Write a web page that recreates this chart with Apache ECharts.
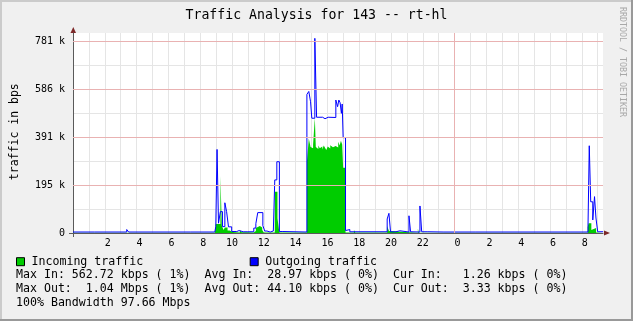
<!DOCTYPE html>
<html><head><meta charset="utf-8">
<script src="https://cdn.jsdelivr.net/npm/echarts@6/dist/echarts.min.js"></script>
<style>html,body{margin:0;padding:0;background:#f0f0f0}#c{width:633px;height:321px}</style>
</head><body><div id="c"></div>
<script>
const chartTitle = 'Traffic Analysis for 143 -- rt-hl';
const yAxisTitle = 'traffic in bps';
const watermark = 'RRDTOOL / TOBI OETIKER';
const seriesNames = ['Incoming traffic', 'Outgoing traffic'];
const yTickLabels = ['0', '195 k', '391 k', '586 k', '781 k'];
const xTickLabels = [' 2',' 4',' 6',' 8','10','12','14','16','18','20','22',' 0',' 2',' 4',' 6',' 8'];
const midnightHour = 24;
const statLines = [
  'Max In: 562.72 kbps ( 1%)  Avg In:  28.97 kbps ( 0%)  Cur In:   1.26 kbps ( 0%)',
  'Max Out:  1.04 Mbps ( 1%)  Avg Out: 44.10 kbps ( 0%)  Cur Out:  3.33 kbps ( 0%)',
  '100% Bandwidth 97.66 Mbps'
];
// hours since start of window, value in kbps (step holds until next point)
const inHours = [0,8.92,8.98,9.27,9.36,9.47,9.55,9.72,9.85,10.05,10.49,10.6,10.8,10.9,11.0,11.1,11.37,11.5,11.62,11.75,11.9,12.0,12.69,12.86,12.98,
  14.71,14.83,14.94,15.02,15.10,15.21,15.27,15.35,15.43,15.52,15.60,15.68,15.77,15.85,15.93,16.02,16.10,16.18,16.27,16.35,16.43,16.52,16.60,16.68,16.77,16.85,16.93,16.99,17.14,
  17.67,17.75,19.76,19.87,19.97,21.69,21.75,32.37,32.43,32.6,32.72,32.9,33.34];
const inKbps = [1,2,37,232,30,12,22,10,4,2,12,3,10,3,7,2,8,20,28,22,12,2,168,60,2,
  290,385,350,345,360,468,350,342,356,345,352,340,356,347,338,352,344,357,349,341,354,362,348,371,356,375,360,266,2,
  12,2,28,8,1,18,1,25,40,12,20,2,1];
const outHours = [0,1.37,1.49,3.38,3.5,7.41,7.53,8.92,8.98,9.06,9.15,9.27,9.40,9.55,9.66,9.78,9.98,10.3,10.45,10.7,10.8,11.0,11.1,
  11.37,11.5,11.62,11.94,12.06,12.2,12.4,12.6,12.69,12.82,12.98,13.2,
  14.71,14.83,14.94,15.02,15.21,15.32,15.70,15.85,16.05,16.15,16.53,16.64,16.72,16.80,16.88,16.93,16.99,17.14,17.22,17.41,
  19.76,19.87,19.97,20.31,20.56,21.13,21.23,21.28,21.35,21.82,21.93,22.32,22.40,23.33,23.41,25.34,25.45,31.32,31.43,
  32.39,32.47,32.56,32.69,32.80,32.89,33.0,33.34];
const outKbps = [4,9,4,14,4,10,4,10,26,340,40,87,26,123,87,25,6,10,5,12,5,8,5,
  20,38,83,30,8,4,8,4,216,290,6,4,
  564,576,534,467,792,471,465,471,463,470,541,514,541,530,487,525,388,10,14,5,
  57,80,5,9,4,70,5,9,4,110,5,12,4,9,4,9,4,10,4,
  26,355,127,53,148,61,5,5];

const FONT = '"DejaVu Sans Mono", monospace';
const xMax = 33.333, yMax = 813.8, yMajor = 195.3125, yMinor = 97.65625;
const gray = '#e5e5e5', red = '#e9b2b2', axisCol = '#5a5a5a', arrowCol = '#7d2828';

const chart = echarts.init(document.getElementById('c'), null, {renderer: 'canvas'});
const txt = (x, y, text, font, extra) => Object.assign({type:'text', x, y, silent:true,
  style: Object.assign({text, font, fill:'#000', textAlign:'left', align:'left', textVerticalAlign:'middle', verticalAlign:'middle'}, extra || {})});

const graphics = [
  {type:'rect', shape:{x:0,y:0,width:633,height:2}, style:{fill:'#cbcbcb'}, silent:true},
  {type:'rect', shape:{x:0,y:0,width:2,height:321}, style:{fill:'#cbcbcb'}, silent:true},
  {type:'rect', shape:{x:0,y:319,width:633,height:2}, style:{fill:'#999999'}, silent:true},
  {type:'rect', shape:{x:631,y:0,width:2,height:321}, style:{fill:'#999999'}, silent:true},
  txt(316.5, 16, chartTitle, '13.2px ' + FONT, {textAlign:'center', align:'center'}),
  Object.assign(txt(15.5, 131.7, yAxisTitle, '11.5px ' + FONT, {textAlign:'center', align:'center'}), {rotation: Math.PI/2}),
  Object.assign(txt(622.5, 62, watermark, '8.3px ' + FONT, {textAlign:'center', align:'center', fill:'#a8a8a8'}), {rotation: -Math.PI/2}),
  {type:'line', shape:{x1:69, y1:233.5, x2:73, y2:233.5}, style:{stroke:axisCol, lineWidth:1}, silent:true},
  {type:'line', shape:{x1:73.5, y1:233, x2:73.5, y2:237}, style:{stroke:axisCol, lineWidth:1}, silent:true},
  {type:'polygon', shape:{points:[[604,230.5],[604,235.5],[610,233]]}, style:{fill:arrowCol}, silent:true},
  {type:'polygon', shape:{points:[[70.5,33],[76,33],[73.3,27]]}, style:{fill:arrowCol}, silent:true}
];
statLines.forEach((s, i) => graphics.push(txt(16, 275 + i * 14.2, s, '11.6px ' + FONT)));

// major grid: red lines at labelled y values and at midnight
const majorLines = yTickLabels.slice(1).map((_, i) => ({yAxis: (i + 1) * yMajor})).concat([{xAxis: midnightHour}]);

chart.setOption({
  animation: false,
  backgroundColor: '#f0f0f0',
  grid: {left: 73, right: 30, top: 33, bottom: 88, show: true, backgroundColor: '#ffffff', borderWidth: 0},
  legend: {
    left: 16, top: 255.7, padding: 0, itemWidth: 8, itemHeight: 8, itemGap: 106.5, icon: 'rect',
    itemStyle: {borderColor: '#000', borderWidth: 1},
    textStyle: {fontFamily: FONT, fontSize: 11.6, color: '#000', lineHeight: 12, padding: [0,0,0,2]},
    data: seriesNames
  },
  xAxis: [
    {type:'value', min:0, max:xMax, interval:1,
     axisLine:{show:true, onZero:false, lineStyle:{color:axisCol, width:1}},
     axisTick:{show:false},
     axisLabel:{show:true, margin:5, fontFamily:FONT, fontSize:10, color:'#000', showMaxLabel:false, showMinLabel:false,
       formatter: v => { const h = Math.round(v); if (Math.abs(v-h) > 1e-6 || h % 2 || h < 2 || h > 32) return ''; return xTickLabels[h/2 - 1]; }},
     splitLine:{show:true, showMinLine:false, showMaxLine:false, lineStyle:{color:gray, width:1}}}
  ],
  yAxis: [
    {type:'value', min:0, max:yMax, interval:yMinor,
     axisLine:{show:false}, axisTick:{show:false}, axisLabel:{show:false},
     splitLine:{show:true, showMinLine:false, showMaxLine:false, lineStyle:{color:gray, width:1}}},
    {type:'value', min:0, max:yMax, interval:yMajor, position:'left',
     axisLine:{show:true, onZero:false, lineStyle:{color:axisCol, width:1}},
     axisTick:{show:false},
     axisLabel:{show:true, margin:8, fontFamily:FONT, fontSize:10, color:'#000', showMaxLabel:false,
       formatter: v => { const k = Math.round(v / yMajor); if (Math.abs(v - k*yMajor) > 1e-6 || k >= yTickLabels.length) return ''; return yTickLabels[k]; }},
     splitLine:{show:false}}
  ],
  series: [
    {name: 'major grid', type:'line', xAxisIndex:0, yAxisIndex:0, z:1, data: [], symbol:'none', silent:true,
     markLine: {silent:true, symbol:['none','none'], animation:false, label:{show:false},
       lineStyle:{color:red, type:'solid', width:1}, emphasis:{disabled:true}, data: majorLines}},
    {name: seriesNames[0], type:'line', step:'end', xAxisIndex:0, yAxisIndex:0, symbol:'none', z:2,
     data: inHours.map((h, i) => [h, inKbps[i]]),
     itemStyle:{color:'#00cc00'}, lineStyle:{width:0, color:'#00cc00'}, areaStyle:{color:'#00cc00', opacity:1}},
    {name: seriesNames[1], type:'line', step:'end', xAxisIndex:0, yAxisIndex:0, symbol:'none', z:3,
     data: outHours.map((h, i) => [h, outKbps[i]]),
     itemStyle:{color:'#0000ff'}, lineStyle:{width:1, color:'#0000ff'}}
  ],
  graphic: {elements: graphics}
});
</script></body></html>
